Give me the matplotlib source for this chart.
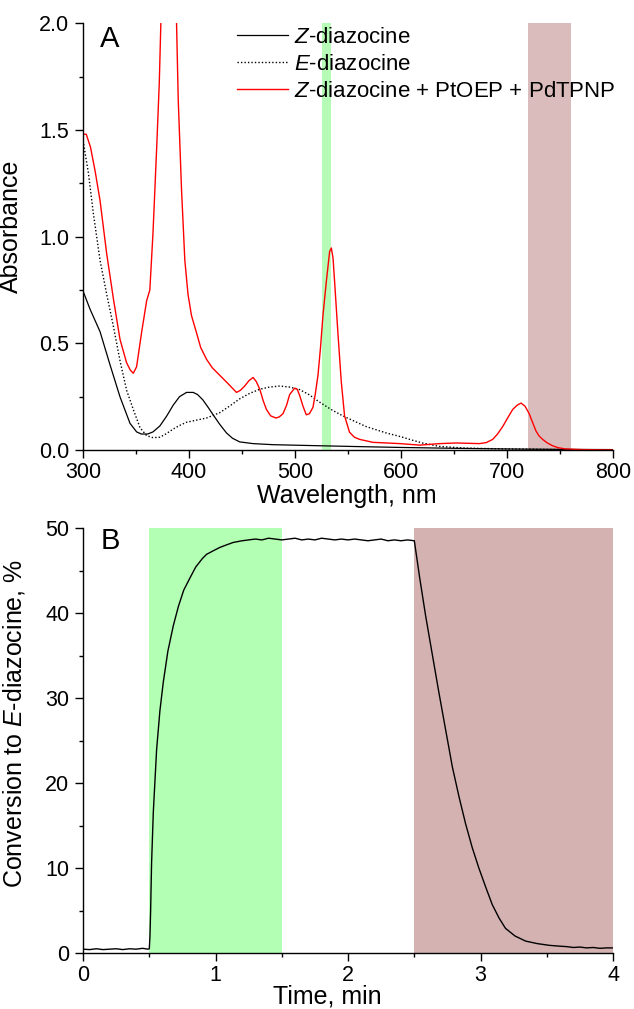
import matplotlib
matplotlib.use("Agg")
import matplotlib.pyplot as plt
from matplotlib.ticker import MultipleLocator, FormatStrFormatter

plt.rcParams['font.family'] = ['Liberation Sans', 'DejaVu Sans']
plt.rcParams['mathtext.fontset'] = 'custom'
plt.rcParams['mathtext.rm'] = 'Liberation Sans'
plt.rcParams['mathtext.it'] = 'Liberation Sans:italic'

# ---------------- Panel A data ----------------
wl_z = [300, 306.6, 316, 325.4, 334.8, 344.3, 350.5, 355, 361, 366, 372.5, 379, 385, 391, 397.6, 403.9,
        408, 413, 418, 422.7, 429, 435.3, 441, 447.8, 460.4, 479, 523, 560, 600, 650, 700, 750, 800]
abs_z = [0.745, 0.66, 0.555, 0.40, 0.25, 0.125, 0.085, 0.075, 0.075, 0.085, 0.113, 0.16, 0.21, 0.25, 0.27, 0.27,
         0.26, 0.235, 0.20, 0.165, 0.12, 0.08, 0.055, 0.038, 0.03, 0.025, 0.02, 0.016, 0.012, 0.008, 0.005, 0.003, 0.002]

wl_e = [300, 305, 309.7, 316, 322.3, 328.6, 334.8, 341.1, 347.4, 353.7, 360, 366, 372.5, 378, 385, 391,
        397.6, 407, 416.5, 429, 438, 447.8, 457, 466.7, 476, 485.6, 495, 504.4, 513, 523, 534, 545,
        556, 567, 586, 600, 610, 620, 636, 660, 700, 750, 800]
abs_e = [1.45, 1.30, 1.11, 0.89, 0.73, 0.58, 0.42, 0.28, 0.19, 0.105, 0.067, 0.058, 0.06, 0.075, 0.098, 0.115,
         0.13, 0.14, 0.15, 0.175, 0.205, 0.24, 0.265, 0.285, 0.295, 0.30, 0.295, 0.283, 0.26, 0.225, 0.19, 0.16,
         0.135, 0.11, 0.08, 0.062, 0.047, 0.033, 0.017, 0.009, 0.005, 0.002, 0.0]

wl_r = [300, 303, 307, 311.3, 316, 322.3, 328.6, 334.8, 341, 344.5, 347.4, 350.5, 355.2, 360, 363, 366,
        369.4, 371.9, 373.4, 376, 380, 384, 388.2, 389.8, 392.9, 396, 399, 402.3, 407, 411, 416.5, 422,
        429, 437, 444.7, 448.5, 452.5, 456.5, 460.4, 463.5, 466.7, 470, 473, 477, 482, 485, 488.6, 492,
        494.9, 499.6, 502, 504.4, 507.5, 510.6, 513.5, 516.9, 519, 521.6, 524, 526.3, 529.5, 532.6, 534.2,
        535.8, 537.3, 540.4, 543.6, 546.7, 551.4, 556, 560.8, 573.4, 598.8, 617.6, 636.4, 652, 674,
        680.5, 686.5, 691, 695.9, 700.5, 705.3, 709.5, 713.2, 717, 720.9, 724, 727.2, 730, 733.5, 738,
        742.9, 748, 755, 770, 800]
abs_r = [1.48, 1.48, 1.42, 1.31, 1.17, 0.92, 0.71, 0.52, 0.41, 0.375, 0.36, 0.39, 0.55, 0.70, 0.75, 1.02,
         1.41, 1.72, 2.0, 2.6, 3.0, 2.75, 2.0, 1.64, 1.22, 0.89, 0.73, 0.63, 0.55, 0.48, 0.425, 0.385,
         0.35, 0.31, 0.27, 0.28, 0.30, 0.325, 0.34, 0.32, 0.285, 0.23, 0.19, 0.16, 0.15, 0.155, 0.17, 0.21,
         0.26, 0.29, 0.285, 0.255, 0.205, 0.165, 0.17, 0.20, 0.26, 0.35, 0.48, 0.63, 0.79, 0.93, 0.947,
         0.90, 0.79, 0.55, 0.32, 0.16, 0.083, 0.06, 0.05, 0.036, 0.03, 0.023, 0.03, 0.033, 0.03,
         0.035, 0.05, 0.075, 0.11, 0.15, 0.19, 0.21, 0.22, 0.205, 0.17, 0.13, 0.09, 0.067, 0.05, 0.033,
         0.02, 0.011, 0.005, 0.002, 0.0]

band_green_a = (525, 534)
band_red_a = (720, 760)

# ---------------- Panel B data ----------------
t_min = [0.0, 0.05, 0.1, 0.15, 0.2, 0.25, 0.3, 0.35, 0.4, 0.45, 0.49, 0.5, 0.505, 0.51, 0.517, 0.53,
         0.555, 0.58, 0.605, 0.64, 0.681, 0.72, 0.76, 0.806, 0.85, 0.9, 0.932, 0.98, 1.03, 1.08, 1.133,
         1.2, 1.25, 1.3, 1.35, 1.4, 1.45, 1.5, 1.55, 1.6, 1.65, 1.7, 1.75, 1.8, 1.85, 1.9, 1.95, 2.0,
         2.05, 2.1, 2.15, 2.2, 2.25, 2.3, 2.35, 2.4, 2.45, 2.5, 2.54, 2.585, 2.636, 2.686, 2.737, 2.787,
         2.837, 2.887, 2.937, 2.987, 3.04, 3.088, 3.14, 3.188, 3.26, 3.34, 3.43, 3.52, 3.6, 3.65, 3.7,
         3.75, 3.8, 3.85, 3.9, 3.95, 4.0]
conv = [0.45, 0.4, 0.5, 0.4, 0.45, 0.5, 0.4, 0.5, 0.45, 0.55, 0.45, 0.5, 2.0, 5.0, 10.5, 16.5,
        23.9, 28.5, 31.8, 35.5, 38.5, 40.8, 42.7, 44.1, 45.4, 46.4, 46.9, 47.3, 47.7, 48.0, 48.3,
        48.5, 48.6, 48.7, 48.6, 48.8, 48.7, 48.6, 48.7, 48.8, 48.6, 48.7, 48.6, 48.8, 48.7, 48.6, 48.7, 48.6,
        48.7, 48.6, 48.5, 48.6, 48.7, 48.5, 48.6, 48.5, 48.6, 48.5, 44.2, 39.7, 35.1, 30.6, 26.2, 21.9,
        18.4, 15.2, 12.4, 10.0, 7.7, 5.7, 4.1, 2.9, 2.0, 1.4, 1.1, 0.9, 0.8, 0.75, 0.65,
        0.7, 0.6, 0.65, 0.55, 0.6, 0.6]

band_green_b = (0.5, 1.5)
band_red_b = (2.5, 4.0)

fig = plt.figure(figsize=(6.34, 10.09), dpi=100)
axA = fig.add_axes([0.131, 0.554, 0.836, 0.4229])
axB = fig.add_axes([0.131, 0.0555, 0.836, 0.4212])

FS_TICK = 15.5
FS_LAB = 18
FS_LEG = 16

def style(ax):
    for s in ['top', 'right']:
        ax.spines[s].set_visible(False)
    for s in ['left', 'bottom']:
        ax.spines[s].set_linewidth(1.0)
    ax.tick_params(which='major', direction='out', length=5.5, width=1, labelsize=FS_TICK)
    ax.tick_params(which='minor', direction='out', length=2.7, width=1)
    ax.tick_params(axis='x', which='major', pad=3.3)
    ax.tick_params(axis='y', which='major', pad=4.3)

# Panel A
axA.axvspan(*band_green_a, color='#b6fcb6', lw=0, zorder=0)
axA.axvspan(*band_red_a, color='#dbbcbc', lw=0, zorder=0)
axA.plot(wl_z, abs_z, color='black', lw=0.9, label='$Z$-diazocine')
axA.plot(wl_e, abs_e, color='black', lw=1.0, ls=(0, (1, 1.5)), label='$E$-diazocine')
axA.plot(wl_r, abs_r, color='red', lw=1.0, label='$Z$-diazocine + PtOEP + PdTPNP')
axA.set_xlim(300, 800)
axA.set_ylim(0, 2.0)
axA.xaxis.set_major_locator(MultipleLocator(100))
axA.xaxis.set_minor_locator(MultipleLocator(50))
axA.yaxis.set_major_locator(MultipleLocator(0.5))
axA.yaxis.set_minor_locator(MultipleLocator(0.25))
axA.yaxis.set_major_formatter(FormatStrFormatter('%.1f'))
style(axA)
axA.set_xlabel('Wavelength, nm', fontsize=FS_LAB)
axA.set_ylabel('Absorbance', fontsize=FS_LAB)
axA.xaxis.set_label_coords(0.497, -0.0787)
axA.yaxis.set_label_coords(-0.113, 0.525)
axA.text(0.032, 0.997, 'A', transform=axA.transAxes, fontsize=21, va='top', ha='left')
leg = axA.legend(loc='upper left', bbox_to_anchor=(0.290, 0.992), frameon=False, fontsize=FS_LEG,
                 handlelength=2.3, handletextpad=0.28, labelspacing=0.28, borderpad=0, borderaxespad=0)

# Panel B
axB.axvspan(*band_green_b, color='#b3ffb3', lw=0, zorder=0)
axB.axvspan(*band_red_b, color='#d5b2b2', lw=0, zorder=0)
axB.plot(t_min, conv, color='black', lw=1.0)
axB.set_xlim(0, 4)
axB.set_ylim(0, 50)
axB.xaxis.set_major_locator(MultipleLocator(1))
axB.xaxis.set_minor_locator(MultipleLocator(0.5))
axB.yaxis.set_major_locator(MultipleLocator(10))
axB.yaxis.set_minor_locator(MultipleLocator(5))
style(axB)
axB.set_xlabel('Time, min', fontsize=FS_LAB)
axB.set_ylabel('Conversion to $E$-diazocine, %', fontsize=FS_LAB)
axB.xaxis.set_label_coords(0.461, -0.0744)
axB.yaxis.set_label_coords(-0.106, 0.541)
axB.text(0.034, 1.0035, 'B', transform=axB.transAxes, fontsize=21, va='top', ha='left')

fig.savefig('out.png', dpi=100)
